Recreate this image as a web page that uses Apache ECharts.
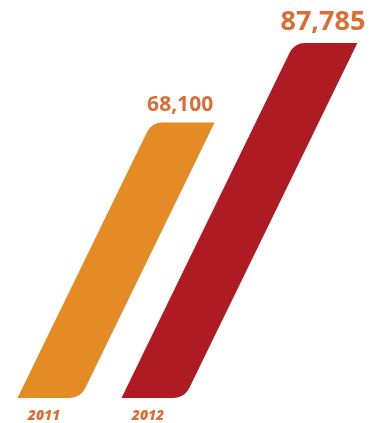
<!DOCTYPE html>
<html>
<head>
<meta charset="utf-8">
<script src="https://cdn.jsdelivr.net/npm/echarts@6/dist/echarts.min.js"></script>
<style>
  html, body { margin: 0; padding: 0; background: #ffffff; }
  #chart { width: 375px; height: 423px; }
</style>
</head>
<body>
<div id="chart"></div>
<script>
// Yearly totals
const years = ['2011', '2012'];
const totals = [68100, 87785];

// Look of each bar and its value label
const barColors = ['#E58B25', '#AF1B22'];
const valueFontSizes = [21, 27];
const textColor = '#D96F36';
const BAR_WIDTH = 63;
const SLANT = 0.487;     // horizontal shift per pixel of height
const CORNER = 11;       // radius of the rounded obtuse corners

const chart = echarts.init(document.getElementById('chart'), null, { renderer: 'canvas' });

function unit(dx, dy) {
  const l = Math.sqrt(dx * dx + dy * dy);
  return [dx / l, dy / l];
}

function renderBar(params, api) {
  const idx = params.dataIndex;
  const value = api.value(1);
  const base = api.coord([api.value(0), 0]);
  const top = api.coord([api.value(0), value]);
  const h = base[1] - top[1];
  const shift = h * SLANT;
  const half = BAR_WIDTH / 2;

  const bl = [base[0] - half, base[1]];
  const br = [base[0] + half, base[1]];
  const tr = [base[0] + shift + half, top[1]];
  const tl = [base[0] + shift - half, top[1]];

  const up = unit(tr[0] - br[0], tr[1] - br[1]);
  const down = unit(bl[0] - tl[0], bl[1] - tl[1]);
  const r = CORNER;

  const d = [
    'M', bl[0], bl[1],
    'L', br[0] - r, br[1],
    'Q', br[0], br[1], br[0] + up[0] * r, br[1] + up[1] * r,
    'L', tr[0], tr[1],
    'L', tl[0] + r, tl[1],
    'Q', tl[0], tl[1], tl[0] + down[0] * r, tl[1] + down[1] * r,
    'Z'
  ].join(' ');

  return {
    type: 'group',
    children: [
      {
        type: 'path',
        shape: { pathData: d },
        style: { fill: barColors[idx] }
      },
      {
        type: 'text',
        x: base[0] + shift - 3,
        y: top[1] - 7,
        style: {
          text: echarts.format.addCommas(value),
          fill: textColor,
          font: 'bold ' + valueFontSizes[idx] + 'px "Open Sans", sans-serif',
          align: 'center',
          verticalAlign: 'bottom'
        }
      }
    ]
  };
}

chart.setOption({
  animation: false,
  grid: { left: 49, right: 222, top: 34, bottom: 22 },
  xAxis: {
    type: 'category',
    data: years,
    boundaryGap: false,
    axisLine: { show: false },
    axisTick: { show: false },
    axisLabel: {
      color: textColor,
      fontFamily: 'Open Sans',
      fontWeight: 800,
      fontStyle: 'italic',
      fontSize: 14,
      margin: 11,
      padding: [0, 10, 0, 0]
    }
  },
  yAxis: {
    type: 'value',
    min: 0,
    max: 90000,
    show: false,
    splitLine: { show: false }
  },
  series: [{
    type: 'custom',
    renderItem: renderBar,
    clip: false,
    data: years.map((y, i) => [i, totals[i]])
  }]
});
</script>
</body>
</html>
